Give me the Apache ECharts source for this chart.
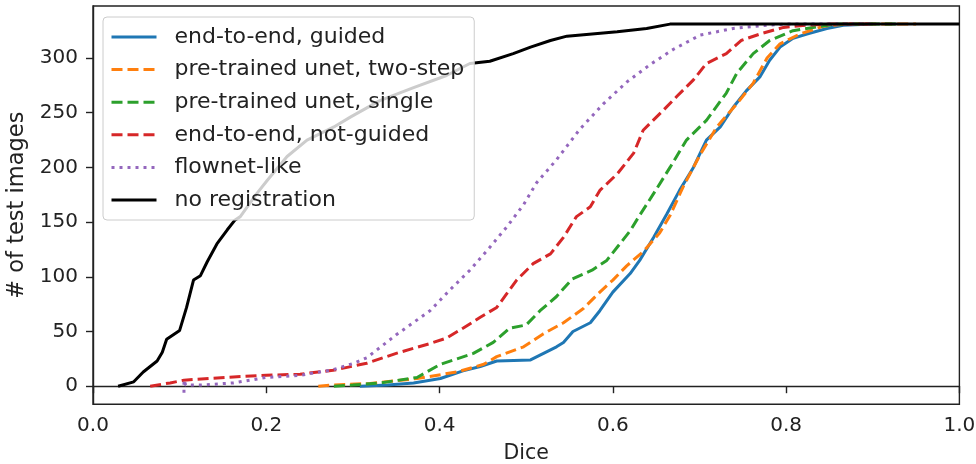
<!DOCTYPE html>
<html>
<head>
<meta charset="utf-8">
<script src="https://cdn.jsdelivr.net/npm/echarts@6/dist/echarts.min.js"></script>
<style>html,body{margin:0;padding:0;background:#fff;}#c{width:976px;height:464px;}</style>
</head>
<body>
<div id="c"></div>
<script>
// Series names
const seriesNames = ["end-to-end, guided", "pre-trained unet, two-step", "pre-trained unet, single", "end-to-end, not-guided", "flownet-like", "no registration"];
// [Dice, # of test images]
const guided = [[0.308,0],[0.34,1],[0.37,3],[0.401,7],[0.427,14],[0.447,18],[0.466,23],[0.505,24],[0.520,30],[0.535,36],[0.543,40],[0.554,50],[0.574,58],[0.585,69],[0.600,86],[0.620,103],[0.631,115],[0.647,136],[0.662,157],[0.677,179],[0.693,200],[0.708,225],[0.724,237],[0.739,255],[0.754,270],[0.770,283],[0.781,298],[0.793,310],[0.808,318],[0.824,322],[0.847,327],[0.866,330],[0.90,331]];
const twoStep = [[0.260,0],[0.274,1],[0.320,2.5],[0.374,7],[0.420,13],[0.451,20],[0.466,27],[0.497,36],[0.520,48],[0.543,58],[0.566,71],[0.585,86],[0.600,97],[0.616,110],[0.635,123],[0.654,140],[0.666,156],[0.681,182],[0.701,212],[0.720,237],[0.743,258],[0.762,277],[0.778,300],[0.793,313],[0.816,322],[0.843,329],[0.87,331],[0.95,331]];
const single = [[0.278,0],[0.30,1],[0.332,3],[0.374,8],[0.401,20],[0.439,30],[0.462,40],[0.481,53],[0.500,56],[0.516,69],[0.535,82],[0.553,98],[0.576,106],[0.593,115],[0.605,127],[0.620,142],[0.630,155],[0.647,176],[0.666,200],[0.685,225],[0.708,243],[0.731,268],[0.743,286],[0.762,304],[0.781,316],[0.808,325],[0.839,329],[0.86,331],[0.93,331]];
const notGuided = [[0.066,0],[0.089,3],[0.105,5.5],[0.162,8.5],[0.200,10],[0.239,11],[0.277,14.5],[0.316,21],[0.350,30],[0.389,39],[0.408,44],[0.427,53],[0.447,63],[0.466,72],[0.478,85],[0.489,97],[0.508,112],[0.528,121],[0.543,136],[0.558,155],[0.574,164],[0.585,179],[0.605,194],[0.624,213],[0.635,234],[0.658,252],[0.674,265],[0.693,280],[0.708,295],[0.731,304],[0.748,316],[0.770,322],[0.797,328],[0.824,330],[0.85,331],[0.9,331]];
const flownet = [[0.105,-6],[0.105,6],[0.107,1],[0.124,1],[0.162,3],[0.200,8],[0.239,10],[0.277,15],[0.301,21],[0.316,26],[0.350,47],[0.389,69],[0.412,88],[0.435,106],[0.458,127],[0.478,146],[0.497,166],[0.512,186],[0.535,207],[0.562,235],[0.589,258],[0.616,278],[0.643,294],[0.670,308],[0.701,321],[0.739,327],[0.778,330],[0.80,331],[0.9,331]];
const noReg = [[0.029,0],[0.047,4],[0.058,13],[0.074,23],[0.080,31],[0.085,43],[0.100,51],[0.108,72],[0.116,97],[0.124,101],[0.132,114],[0.143,130],[0.155,143],[0.164,152],[0.170,155],[0.189,176],[0.201,188],[0.224,210],[0.247,225],[0.278,237],[0.297,246],[0.331,261],[0.370,273],[0.408,284],[0.435,295],[0.458,297],[0.485,304],[0.505,310],[0.528,316],[0.547,320],[0.605,324],[0.639,327],[0.666,331],[1.0,331]];
const yTicks = [0, 50, 100, 150, 200, 250, 300];
const xTicks = [0, 0.2, 0.4, 0.6, 0.8, 1.0];

const colors = ["#1f77b4", "#ff7f0e", "#2ca02c", "#d62728", "#9467bd", "#000000"];
const dashes = ["solid", [11, 5], [11, 5], [11, 5], [3, 5], "solid"];
const datasets = [guided, twoStep, single, notGuided, flownet, noReg];
const FONT = "DejaVu Sans";

const chart = echarts.init(document.getElementById('c'), null, {renderer: 'canvas'});
chart.setOption({
  animation: false,
  backgroundColor: '#fff',
  textStyle: {fontFamily: FONT},
  grid: {left: 93, right: 16.6, top: 6, bottom: 59.7, show: true, borderColor: '#222', borderWidth: 1.4, backgroundColor: 'transparent', containLabel: false, outerBoundsMode: 'none'},
  legend: {
    orient: 'vertical', left: 103, top: 17,
    padding: [9, 10, 9, 7],
    itemWidth: 45, itemHeight: 14, itemGap: 10.6,
    backgroundColor: 'rgba(255,255,255,0.8)', borderColor: '#cccccc', borderWidth: 1, borderRadius: 4,
    itemStyle: {opacity: 0},
    lineStyle: {width: 3},
    textStyle: {fontFamily: FONT, fontSize: 22, color: '#222', lineHeight: 22, padding: [0, 0, 0, 13]},
    data: seriesNames
  },
  xAxis: {
    type: 'value', min: 0, max: 1, interval: 0.2,
    name: 'Dice', nameLocation: 'middle', nameGap: 39,
    nameTextStyle: {fontFamily: FONT, fontSize: 20.5, color: '#222'},
    axisLine: {show: true, lineStyle: {color: '#222', width: 1.4}},
    axisTick: {show: true, length: 7, lineStyle: {color: '#222', width: 1.4}},
    axisLabel: {fontFamily: FONT, fontSize: 20, color: '#222', margin: 11, formatter: v => v.toFixed(1)},
    splitLine: {show: false}
  },
  yAxis: {
    type: 'value', min: -16.55, max: 347.55,
    name: '# of test images', nameLocation: 'middle', nameGap: 56, nameRotate: 90,
    nameTextStyle: {fontFamily: FONT, fontSize: 22.5, color: '#222'},
    axisLine: {show: true, lineStyle: {color: '#222', width: 1.4}},
    axisTick: {show: true, length: 7, lineStyle: {color: '#222', width: 1.4}, customValues: yTicks},
    axisLabel: {fontFamily: FONT, fontSize: 20, color: '#222', margin: 15, customValues: yTicks, showMinLabel: true, showMaxLabel: true},
    splitLine: {show: false}
  },
  series: datasets.map((d, i) => ({
    type: 'line', name: seriesNames[i], data: d,
    symbol: 'none', showSymbol: false, smooth: false,
    lineStyle: {color: colors[i], width: 3, type: dashes[i], cap: 'butt'},
    itemStyle: {color: colors[i]},
    z: 2 + i * 0.01
  }))
});
</script>
</body>
</html>
